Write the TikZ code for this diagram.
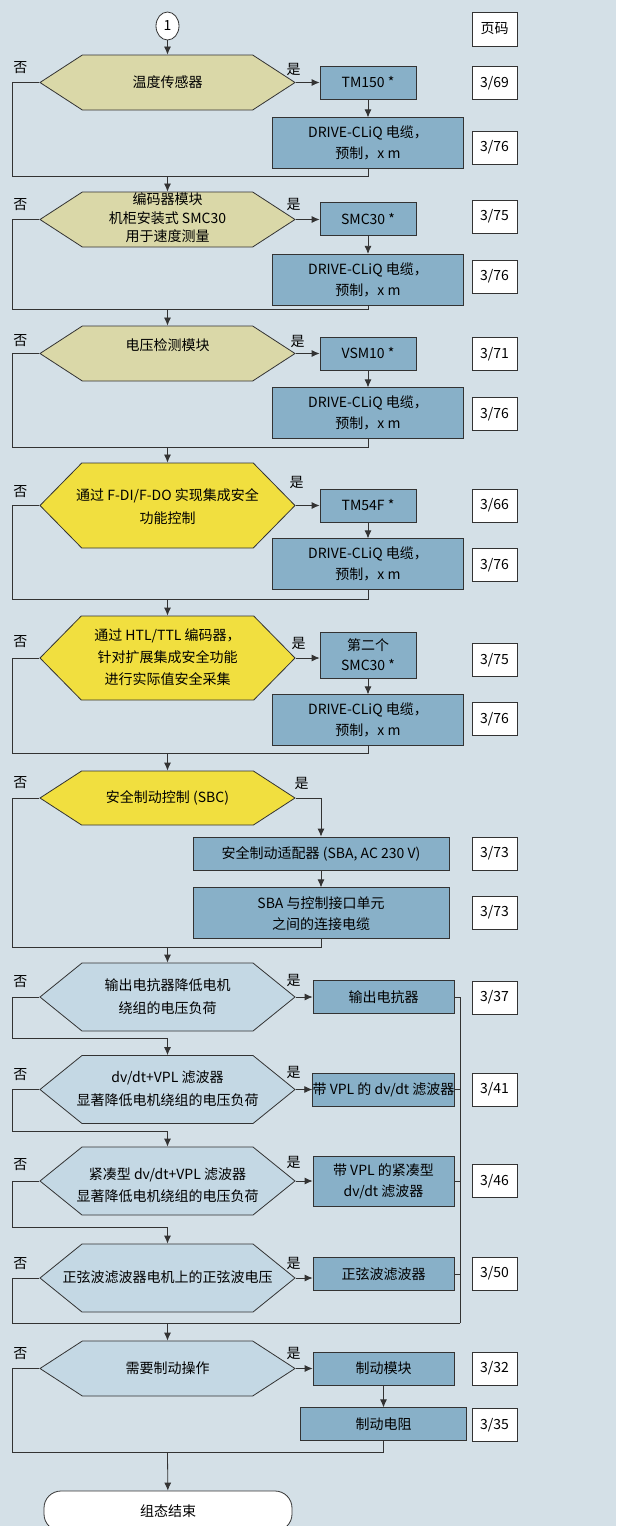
\documentclass[tikz,border=0pt]{standalone}
\usepackage{fontspec}
\setmainfont{Noto Sans CJK SC}
\usetikzlibrary{positioning,shapes.symbols,shapes.geometric,arrows.meta}
\definecolor{SiBg}{HTML}{D4E0E7}
\definecolor{SiKhaki}{HTML}{DAD8A8}
\definecolor{SiYellow}{HTML}{F1DF3F}
\definecolor{SiLight}{HTML}{C4D8E4}
\definecolor{SiBox}{HTML}{88B0C8}
\definecolor{SiLine}{HTML}{333333}
% text of a hexagon, without width of its own
\newcommand{\hexlines}[1]{\makebox[0pt]{\begin{tabular}{@{}c@{}}#1\end{tabular}}}
\tikzset{
  fcBase/.style={
    font=\fontsize{14pt}{21pt}\selectfont,
    text centered,
    inner sep=2pt,
    line width=0.8pt,
    draw=SiLine,
    text=black
  },
  fcHex/.style={
    fcBase,
    signal,
    signal to=west and east,
    minimum width=255pt,
    inner sep=0pt
  },
  fcHexKhaki/.style={
    fcHex,
    fill=SiKhaki,
    minimum height=55pt,
    signal pointer angle=66
  },
  fcHexYellow/.style={
    fcHex,
    fill=SiYellow,
    minimum height=85pt,
    signal pointer angle=91
  },
  fcHexBlue/.style={
    fcHex,
    fill=SiLight,
    minimum height=68pt,
    signal pointer angle=78
  },
  fcBox/.style={
    fcBase,
    fill=SiBox,
    minimum width=96pt,
    minimum height=33pt,
    align=center
  },
  fcCable/.style={
    fcBox,
    minimum width=191pt,
    minimum height=51pt
  },
  fcPage/.style={
    fcBase,
    fill=white,
    minimum width=45pt,
    minimum height=33pt
  },
  fcLabel/.style={
    font=\fontsize{14pt}{14pt}\selectfont,
    inner sep=0pt
  },
  fcLine/.style={
    line width=0.8pt,
    draw=SiLine
  },
  fcArrow/.style={
    fcLine,
    -{Latex[length=8pt,width=7pt]}
  }
}
\begin{document}
\begin{tikzpicture}[x=1pt, y=-1pt, node distance=17pt]
        \useasboundingbox (0,0) rectangle (616,1526);
        \clip (0,0) rectangle (616,1526);
        \fill [SiBg] (0,0) rectangle (616,1526);
        \coordinate (lx) at (12,0);

        \node (start) [fcBase, ellipse, fill=white, minimum width=23pt, minimum height=28pt, inner sep=0pt] at (167.5,26) {1};
        \node (pg_head) [fcPage, minimum height=34pt] at (494.5,29) {页码};

        % Temperatursensor
        \node (d1) [fcHexKhaki, text depth=6pt] at (167.5,82.5) {\hexlines{温度传感器}};
        \node (d1_yes) [fcBox] at (368,82.5) {TM150 *};
        \node (d1_cable) [fcCable, below=18pt of d1_yes] {DRIVE-CLiQ 电缆，\\预制，x m};
        \node (d1_pg) [fcPage] at (494.5,83) {3/69};
        \node (d1_pgc) [fcPage] at (494.5,147.5) {3/76};
        \node (d1_no) [fcLabel] at ([shift={(-19,-15)}]d1.west) {否};
        \node (d1_si) [fcLabel] at ([shift={(-2,-13)}]d1.east) {是};
        \coordinate (d1_out) at (167.5,176);

        % SMC30
        \node (d2) [fcHexKhaki, font=\fontsize{14pt}{18.3pt}\selectfont] at (167.5,219.5) {\hexlines{编码器模块\\机柜安装式 SMC30\\用于速度测量}};
        \node (d2_yes) [fcBox] at (368,219) {SMC30 *};
        \node (d2_cable) [fcCable, below=18pt of d2_yes] {DRIVE-CLiQ 电缆，\\预制，x m};
        \node (d2_pg) [fcPage] at (494.5,216.5) {3/75};
        \node (d2_pgc) [fcPage] at (494.5,276.5) {3/76};
        \node (d2_no) [fcLabel] at ([shift={(-19,-15)}]d2.west) {否};
        \node (d2_si) [fcLabel] at ([shift={(-2,-15)}]d2.east) {是};
        \coordinate (d2_out) at (167.5,309);

        % VSM10
        \node (d3) [fcHexKhaki, text depth=22pt] at (167.5,353.5) {\hexlines{电压检测模块}};
        \node (d3_yes) [fcBox] at (368,353.5) {VSM10 *};
        \node (d3_cable) [fcCable, below=17pt of d3_yes] {DRIVE-CLiQ 电缆，\\预制，x m};
        \node (d3_pg) [fcPage] at (494.5,354) {3/71};
        \node (d3_pgc) [fcPage] at (494.5,414) {3/76};
        \node (d3_no) [fcLabel] at ([shift={(-19,-13)}]d3.west) {否};
        \node (d3_si) [fcLabel] at ([shift={(2,-12)}]d3.east) {是};
        \coordinate (d3_out) at (167.5,447);

        % TM54F
        \node (d4) [fcHexYellow, font=\fontsize{14pt}{23pt}\selectfont, text height=31pt] at (167.5,505.5) {\hexlines{通过 F-DI/F-DO 实现集成安全\\功能控制}};
        \node (d4_yes) [fcBox] at (368,505.5) {TM54F *};
        \node (d4_cable) [fcCable, below=16pt of d4_yes] {DRIVE-CLiQ 电缆，\\预制，x m};
        \node (d4_pg) [fcPage] at (494.5,505.5) {3/66};
        \node (d4_pgc) [fcPage] at (494.5,565) {3/76};
        \node (d4_no) [fcLabel] at ([shift={(-19,-14)}]d4.west) {否};
        \node (d4_si) [fcLabel] at ([shift={(1,-23)}]d4.east) {是};
        \coordinate (d4_out) at (167.5,599);

        % zweites SMC30
        \node (d5) [fcHexYellow, minimum height=84pt, font=\fontsize{14pt}{22pt}\selectfont] at (167.5,658) {\hexlines{通过 HTL/TTL 编码器，\\针对扩展集成安全功能\\进行实际值安全采集}};
        \node (d5_yes) [fcBox, minimum height=46pt, font=\fontsize{14pt}{20pt}\selectfont] at (368,655) {第二个\\SMC30 *};
        \node (d5_cable) [fcCable, below=16pt of d5_yes] {DRIVE-CLiQ 电缆，\\预制，x m};
        \node (d5_pg) [fcPage] at (494.5,660) {3/75};
        \node (d5_pgc) [fcPage] at (494.5,719) {3/76};
        \node (d5_no) [fcLabel] at ([shift={(-19,-16)}]d5.west) {否};
        \node (d5_si) [fcLabel] at ([shift={(3,-15)}]d5.east) {是};
        \coordinate (d5_out) at (167.5,753);

        % SBC
        \node (d6) [fcHexYellow, minimum height=54pt, signal pointer angle=66, text depth=6pt] at (167.5,798) {\hexlines{安全制动控制 (SBC)}};
        \node (d6_yes) [fcBox, minimum width=256pt] at (321,853.5) {安全制动适配器 (SBA, AC 230 V)};
        \node (d6_cable) [fcCable, minimum width=256pt, below=17pt of d6_yes] {SBA 与控制接口单元\\之间的连接电缆};
        \node (d6_pg) [fcPage] at (494.5,853.5) {3/73};
        \node (d6_pgc) [fcPage] at (494.5,912.5) {3/73};
        \node (d6_no) [fcLabel] at ([shift={(-19,-15)}]d6.west) {否};
        \node (d6_si) [fcLabel] at ([shift={(6,-15)}]d6.east) {是};
        \coordinate (d6_out) at (167.5,947);

        % Ausgangsdrossel
        \node (d7) [fcHexBlue, font=\fontsize{14pt}{23pt}\selectfont] at (167.5,997) {\hexlines{输出电抗器降低电机\\绕组的电压负荷}};
        \node (d7_yes) [fcBox, minimum width=141pt] at (383.5,997) {输出电抗器};
        \node (d7_pg) [fcPage] at (494.5,997.5) {3/37};
        \node (d7_no) [fcLabel] at ([shift={(-19,-15)}]d7.west) {否};
        \node (d7_si) [fcLabel] at ([shift={(-2,-17)}]d7.east) {是};
        \coordinate (d7_out) at (167.5,1038);

        % dv/dt-Filter
        \node (d8) [fcHexBlue, font=\fontsize{14pt}{23pt}\selectfont] at (167.5,1089.5) {\hexlines{dv/dt+VPL 滤波器\\显著降低电机绕组的电压负荷}};
        \node (d8_yes) [fcBox, minimum width=141pt, inner sep=0pt] at (383.5,1089.5) {带 VPL 的 dv/dt 滤波器};
        \node (d8_pg) [fcPage] at (494.5,1089.5) {3/41};
        \node (d8_no) [fcLabel] at ([shift={(-19,-15)}]d8.west) {否};
        \node (d8_si) [fcLabel] at ([shift={(-2,-17)}]d8.east) {是};
        \coordinate (d8_out) at (167.5,1131);

        % kompakter dv/dt-Filter
        \node (d9) [fcHexBlue, font=\fontsize{14pt}{22pt}\selectfont, text depth=8pt] at (167.5,1181) {\hexlines{紧凑型 dv/dt+VPL 滤波器\\显著降低电机绕组的电压负荷}};
        \node (d9_yes) [fcBox, minimum width=141pt, minimum height=50pt] at (383.5,1181) {带 VPL 的紧凑型\\dv/dt 滤波器};
        \node (d9_pg) [fcPage] at (494.5,1181) {3/46};
        \node (d9_no) [fcLabel] at ([shift={(-19,-16)}]d9.west) {否};
        \node (d9_si) [fcLabel] at ([shift={(-2,-19)}]d9.east) {是};
        \coordinate (d9_out) at (167.5,1227);

        % Sinusfilter
        \node (d10) [fcHexBlue, text depth=6pt] at (167.5,1278) {\hexlines{正弦波滤波器电机上的正弦波电压}};
        \node (d10_yes) [fcBox, minimum width=141pt] at (383.5,1274) {正弦波滤波器};
        \node (d10_pg) [fcPage] at (494.5,1273.5) {3/50};
        \node (d10_no) [fcLabel] at ([shift={(-19,-14)}]d10.west) {否};
        \node (d10_si) [fcLabel] at ([shift={(-2,-15)}]d10.east) {是};
        \coordinate (d10_out) at (167.5,1323);
        \coordinate (bus_end) at (460,1323);

        % Bremsbetrieb
        \node (d11) [fcHexBlue, minimum height=55pt, signal pointer angle=66, text depth=6pt] at (167.5,1368.5) {\hexlines{需要制动操作}};
        \node (d11_yes) [fcBox, minimum width=141pt] at (383.5,1368.5) {制动模块};
        \node (d11_cable) [fcBox, minimum width=166pt, below=22pt of d11_yes] {制动电阻};
        \node (d11_pg) [fcPage] at (494.5,1368.5) {3/32};
        \node (d11_pgc) [fcPage] at (494.5,1425) {3/35};
        \node (d11_no) [fcLabel] at ([shift={(-19,-15)}]d11.west) {否};
        \node (d11_si) [fcLabel] at ([shift={(-2,-15)}]d11.east) {是};
        \coordinate (d11_out) at (167.5,1452);

        \node (finish) [fcBase, fill=white, rounded corners=17pt, minimum width=248pt, minimum height=40pt] at (168,1511) {组态结束};

        % Verbindungen
        \draw [fcArrow] (start) -- (d1);
        \draw [fcArrow] (d1.east) -- (d1_yes.west);
        \draw [fcArrow] (d1_yes) -- (d1_cable);
        \draw [fcLine] (d1.west) -| (lx |- d1_out) -- (d1_cable.south |- d1_out) -- (d1_cable.south);
        \draw [fcArrow] (d1_out) -- (d2);

        \draw [fcArrow] (d2.east) -- (d2.east -| d2_yes.west);
        \draw [fcArrow] (d2_yes) -- (d2_cable);
        \draw [fcLine] (d2.west) -| (lx |- d2_out) -- (d2_cable.south |- d2_out) -- (d2_cable.south);
        \draw [fcArrow] (d2_out) -- (d3);

        \draw [fcArrow] (d3.east) -- (d3_yes.west);
        \draw [fcArrow] (d3_yes) -- (d3_cable);
        \draw [fcLine] (d3.west) -| (lx |- d3_out) -- (d3_cable.south |- d3_out) -- (d3_cable.south);
        \draw [fcArrow] (d3_out) -- (d4);

        \draw [fcArrow] (d4.east) -- (d4_yes.west);
        \draw [fcArrow] (d4_yes) -- (d4_cable);
        \draw [fcLine] (d4.west) -| (lx |- d4_out) -- (d4_cable.south |- d4_out) -- (d4_cable.south);
        \draw [fcArrow] (d4_out) -- (d5);

        \draw [fcArrow] (d5.east) -- (d5.east -| d5_yes.west);
        \draw [fcArrow] (d5_yes) -- (d5_cable);
        \draw [fcLine] (d5.west) -| (lx |- d5_out) -- (d5_cable.south |- d5_out) -- (d5_cable.south);
        \draw [fcArrow] (d5_out) -- (d6);

        \draw [fcArrow] (d6.east) -| (d6_yes.north);
        \draw [fcArrow] (d6_yes) -- (d6_cable);
        \draw [fcLine] (d6.west) -| (lx |- d6_out) -- (d6_cable.south |- d6_out) -- (d6_cable.south);
        \draw [fcArrow] (d6_out) -- (d7);

        \draw [fcArrow] (d7.east) -- (d7_yes.west);
        \draw [fcLine] (d7.west) -| (lx |- d7_out) -- (d7_out);
        \draw [fcArrow] (d7_out) -- (d8);

        \draw [fcArrow] (d8.east) -- (d8_yes.west);
        \draw [fcLine] (d8.west) -| (lx |- d8_out) -- (d8_out);
        \draw [fcArrow] (d8_out) -- (d9);

        \draw [fcArrow] (d9.east) -- (d9_yes.west);
        \draw [fcLine] (d9.west) -| (lx |- d9_out) -- (d9_out);
        \draw [fcArrow] (d9_out) -- (d10);

        \draw [fcArrow] (d10.east) -- (d10.east -| d10_yes.west);
        \draw [fcLine] (d10.west) -| (lx |- d10_out) -- (bus_end);
        \draw [fcLine] (d7_yes.east) -| (bus_end);
        \draw [fcLine] (d8_yes.east) -- (d8_yes.east -| bus_end);
        \draw [fcLine] (d9_yes.east) -- (d9_yes.east -| bus_end);
        \draw [fcLine] (d10_yes.east) -- (d10_yes.east -| bus_end);
        \draw [fcArrow] (d10_out) -- (d11);

        \draw [fcArrow] (d11.east) -- (d11_yes.west);
        \draw [fcArrow] (d11_yes) -- (d11_cable);
        \draw [fcLine] (d11.west) -| (lx |- d11_out) -- (d11_cable.south |- d11_out) -- (d11_cable.south);
        \draw [fcArrow] (d11_out) -- (finish);
      \end{tikzpicture}
\end{document}
